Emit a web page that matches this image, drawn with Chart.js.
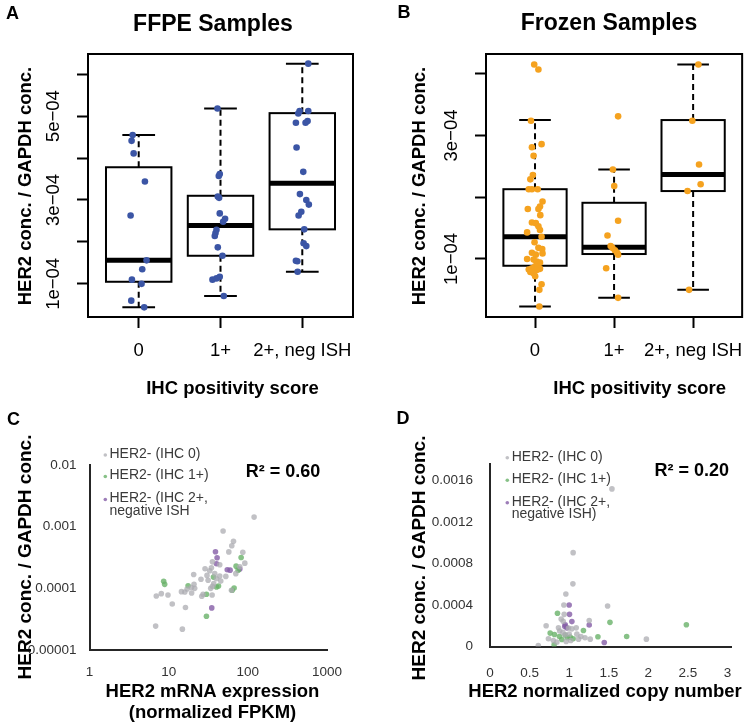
<!DOCTYPE html>
<html>
<head>
<meta charset="utf-8">
<title>HER2 / GAPDH</title>
<script src="https://cdn.jsdelivr.net/npm/chart.js@4.4.1/dist/chart.umd.min.js"></script>
<style>
  body { margin: 0; background: #fff; }
  #page { position: relative; width: 755px; height: 726px; overflow: hidden; }
  canvas { position: absolute; }
</style>
</head>
<body>
<div id="page">
  <canvas id="chartA" width="377" height="400" style="left:0;top:0"></canvas>
  <canvas id="chartB" width="378" height="400" style="left:377px;top:0"></canvas>
  <canvas id="chartC" width="377" height="326" style="left:0;top:400px"></canvas>
  <canvas id="chartD" width="378" height="326" style="left:377px;top:400px"></canvas>
</div>
<script>
// ---------- data ----------
// boxplot panels: HER2 conc. / GAPDH conc., in units of 1e-04
const scoreLabels = ['0', '1+', '2+, neg ISH'];

const ffpeScore0 = [4.55, 4.41, 4.11, 3.44, 2.63, 1.56, 1.35, 1.10, 1.00, 0.60, 0.44];
const ffpeScore1 = [5.18, 3.62, 3.57, 3.08, 3.05, 2.68, 2.55, 2.48, 2.29, 2.21, 2.14, 1.87, 1.67, 1.17, 1.13, 1.10, 0.71];
const ffpeScore2 = [6.25, 5.12, 5.06, 5.12, 4.84, 4.84, 4.88, 4.25, 3.67, 3.14, 3.00, 2.89, 2.72, 2.63, 2.30, 1.97, 1.90, 1.55, 1.54, 1.29];
// horizontal jitter of each dot, in category units
const ffpeJitter0 = [-0.074, -0.087, -0.062, 0.076, -0.099, 0.096, 0.043, -0.083, 0.035, -0.091, 0.067];
const ffpeJitter1 = [-0.037, -0.009, -0.021, -0.033, -0.017, -0.009, 0.056, 0.032, -0.049, -0.061, -0.070, -0.033, 0.024, -0.009, -0.049, -0.098, 0.040];
const ffpeJitter2 = [0.073, -0.033, -0.049, 0.073, -0.078, 0.040, 0.065, -0.070, 0.012, -0.029, 0.049, 0.080, -0.012, -0.045, 0.024, 0.016, 0.049, -0.078, -0.061, -0.057];
const ffpeLow = [0.44, 0.71, 1.29];
const ffpeQ1 = [1.05, 1.67, 2.30];
const ffpeMedian = [1.56, 2.39, 3.40];
const ffpeQ3 = [3.78, 3.10, 5.07];
const ffpeHigh = [4.55, 5.18, 6.25];

const frozenScore0 = [4.15, 4.07, 3.24, 2.86, 2.81, 2.67, 2.36, 2.29, 2.13, 2.13, 2.13, 1.93, 1.85, 1.81, 1.81, 1.71, 1.59, 1.58, 1.53, 1.47,
  1.36, 1.43, 1.27, 1.18, 1.16, 1.10, 1.07, 1.09, 1.00, 0.99, 0.96, 0.94, 0.91, 0.88, 0.85, 0.83, 0.84, 0.82, 0.79, 0.77, 0.72, 0.59, 0.50, 0.23];
const frozenScore1 = [3.31, 2.45, 2.18, 1.62, 1.38, 1.21, 1.18, 1.14, 1.10, 1.07, 0.85, 0.37];
const frozenScore2 = [4.15, 3.24, 2.53, 2.21, 2.10, 0.50];
const frozenJitter0 = [-0.010, 0.043, -0.051, 0.083, -0.039, -0.018, -0.027, -0.059, -0.079, -0.039, 0.034, 0.095, 0.063, 0.043, -0.091, 0.067, -0.039, 0.010, 0.043, 0.063,
  0.083, -0.100, -0.006, 0.043, 0.091, -0.039, 0.010, 0.095, -0.100, -0.018, 0.022, 0.063, 0.034, 0.002, -0.039, -0.079, 0.063, 0.022, -0.059, -0.018, 0.002, 0.083, 0.055, 0.055];
const frozenJitter1 = [0.051, -0.015, 0.002, 0.051, -0.083, -0.043, -0.022, 0.010, 0.039, 0.051, -0.100, 0.051];
const frozenJitter2 = [0.067, -0.010, 0.075, 0.095, -0.071, -0.051];
const frozenLow = [0.23, 0.37, 0.50];
const frozenQ1 = [0.89, 1.08, 2.10];
const frozenMedian = [1.36, 1.19, 2.37];
const frozenQ3 = [2.13, 1.91, 3.25];
const frozenHigh = [3.25, 2.45, 4.15];

// panel C: [HER2 mRNA FPKM, HER2/GAPDH]
const fpkmIhc0 = [[120, 0.00143], [48.7, 0.00085], [65.9, 0.00058], [62.7, 0.00049], [57.5, 0.00039], [86.4, 0.000385], [91.6, 0.000256],
  [35.7, 0.000269], [44.2, 0.000241], [34.7, 0.000215], [33.0, 0.000193], [38.2, 0.000173], [30.5, 0.000162], [20.7, 0.000168],
  [25.6, 0.00014], [31.5, 0.000135], [45.5, 0.000131], [52.7, 0.000156], [79.2, 0.000224], [35.7, 0.000108], [34.0, 0.0001],
  [19.4, 0.000103], [21.3, 0.0001], [17.1, 0.0000975], [14.5, 0.0000884], [16.0, 0.0000873], [19.5, 0.0000841], [35.4, 0.000078],
  [27.2, 0.00008], [26.2, 0.0000743], [62.1, 0.0000929], [8.07, 0.000082], [6.98, 0.0000751], [9.8, 0.000078], [11.1, 0.0000558],
  [16.3, 0.0000488], [6.85, 0.0000244], [14.9, 0.0000218], [37.1, 0.000119], [44.2, 0.000158], [70.5, 0.000173], [28.8, 0.000208],
  [20.9, 0.000116], [40.2, 0.000143]];
const fpkmIhc1 = [[82.3, 0.000316], [71.1, 0.000229], [75.4, 0.000197], [8.65, 0.00013], [8.9, 0.000116], [36.8, 0.000152], [42.6, 0.000109],
  [40.2, 0.000105], [17.6, 0.00011], [67.1, 0.000101], [63.5, 0.0000929], [30.0, 0.00008], [30.0, 0.0000353]];
const fpkmIhc2 = [[39.0, 0.000391], [40.9, 0.000313], [40.2, 0.00025], [59.7, 0.000197], [79.2, 0.000205], [55.0, 0.0002], [35.0, 0.0000482]];

// panel D: [HER2 normalized copy number, HER2/GAPDH]
const copyIhc0 = [[1.54, 0.00152], [1.05, 0.000905], [1.047, 0.000604], [0.958, 0.000507], [0.933, 0.0004], [1.485, 0.00039], [0.937, 0.00031],
  [0.899, 0.000265], [0.924, 0.000243], [1.253, 0.00025], [0.709, 0.0002], [0.865, 0.00018], [0.991, 0.000178], [1.034, 0.00017],
  [1.089, 0.00018], [0.92, 0.000136], [0.949, 0.000113], [1.097, 0.000119], [1.148, 0.000097], [1.2, 0.000084], [1.266, 0.000071],
  [1.975, 0.000071], [0.738, 0.000075], [0.80, 0.000058], [0.844, 0.000042], [0.962, 0.000049], [1.02, 0.000058], [1.118, 0.000071],
  [0.61, 0.00001], [0.88, 0.00015], [1.0, 0.00012]];
const copyIhc1 = [[0.852, 0.00032], [1.515, 0.000233], [1.18, 0.000155], [0.76, 0.000129], [0.814, 0.000116], [0.877, 0.000097], [0.979, 0.000084],
  [1.013, 0.00009], [0.907, 0.000068], [1.363, 0.000094], [1.726, 0.000097], [0.81, 0.000016], [2.48, 0.00021], [0.95, 0.00011], [1.05, 0.000075]];
const copyIhc2 = [[1.0, 0.0004], [1.004, 0.00031], [1.034, 0.00024], [1.253, 0.000207], [0.945, 0.000194], [0.97, 0.00018], [1.443, 0.000039], [0.95, 0.00021]];

const groupNamesC = ['HER2- (IHC 0)', 'HER2- (IHC 1+)', 'HER2- (IHC 2+,\nnegative ISH'];
const groupNamesD = ['HER2- (IHC 0)', 'HER2- (IHC 1+)', 'HER2- (IHC 2+,\nnegative ISH)'];

// ---------- styling ----------
const FONT = '"Liberation Sans", Arial, sans-serif';
const BLUE = '#3b55a5';
const ORANGE = '#f5a21f';
const GROUP_COLORS = ['rgba(172,172,178,0.75)', 'rgba(105,178,105,0.8)', 'rgba(132,92,166,0.8)'];

Chart.defaults.font.family = FONT;
Chart.defaults.color = '#000';
Chart.defaults.animation = false;
Chart.defaults.events = [];
Chart.defaults.plugins.legend.display = false;
Chart.defaults.plugins.tooltip.enabled = false;

function jitterPoints(values, jitter, cat) {
  return values.map((v, i) => ({ x: cat + jitter[i], y: v }));
}
function pairPoints(rows) {
  return rows.map(r => ({ x: r[0], y: r[1] }));
}

// free text (titles, letters), drawn after the chart
function textPlugin(items) {
  return {
    id: 'texts',
    afterDraw(chart) {
      const ctx = chart.ctx;
      items.forEach(t => {
        ctx.save();
        ctx.translate(t.x, t.y);
        if (t.rot) ctx.rotate(t.rot);
        ctx.font = t.font;
        ctx.fillStyle = t.color || '#000';
        ctx.textAlign = t.align || 'center';
        ctx.textBaseline = 'middle';
        ctx.fillText(t.text, 0, 0);
        ctx.restore();
      });
    }
  };
}

// R style boxes: frame, dashed whiskers, staples, box and thick median
function boxPlugin(low, q1, median, q3, high) {
  return {
    id: 'boxes',
    beforeDatasetsDraw(chart) {
      const { ctx, chartArea: a, scales: { x, y } } = chart;
      ctx.save();
      ctx.strokeStyle = '#000';
      ctx.lineWidth = 2;
      ctx.strokeRect(a.left, a.top, a.right - a.left, a.bottom - a.top);
      median.forEach((m, i) => {
        const cx = x.getPixelForValue(i);
        const b0 = x.getPixelForValue(i - 0.4), b1 = x.getPixelForValue(i + 0.4);
        const s0 = x.getPixelForValue(i - 0.2), s1 = x.getPixelForValue(i + 0.2);
        const yLo = y.getPixelForValue(low[i]), yHi = y.getPixelForValue(high[i]);
        const yQ1 = y.getPixelForValue(q1[i]), yQ3 = y.getPixelForValue(q3[i]);
        const yMed = y.getPixelForValue(m);

        ctx.lineWidth = 2;
        ctx.setLineDash([6, 4]);
        ctx.beginPath();
        ctx.moveTo(cx, yQ3); ctx.lineTo(cx, yHi);
        ctx.moveTo(cx, yQ1); ctx.lineTo(cx, yLo);
        ctx.stroke();
        ctx.setLineDash([]);

        ctx.beginPath();
        ctx.moveTo(s0, yHi); ctx.lineTo(s1, yHi);
        ctx.moveTo(s0, yLo); ctx.lineTo(s1, yLo);
        ctx.stroke();

        ctx.fillStyle = '#fff';
        ctx.fillRect(b0, yQ3, b1 - b0, yQ1 - yQ3);
        ctx.strokeRect(b0, yQ3, b1 - b0, yQ1 - yQ3);

        ctx.lineWidth = 5;
        ctx.beginPath();
        ctx.moveTo(b0, yMed); ctx.lineTo(b1, yMed);
        ctx.stroke();
      });
      ctx.restore();
    }
  };
}

// little dot legend in the corner of the Excel panels
function dotLegendPlugin(dotX, textX, rows) {
  return {
    id: 'dotLegend',
    afterDraw(chart) {
      const ctx = chart.ctx;
      ctx.save();
      ctx.font = '14px ' + FONT;
      ctx.textAlign = 'left';
      ctx.textBaseline = 'middle';
      chart.data.datasets.forEach((ds, i) => {
        ctx.fillStyle = ds.backgroundColor;
        ctx.beginPath();
        ctx.arc(dotX, rows[i] + 1, 1.8, 0, Math.PI * 2);
        ctx.fill();
        ctx.fillStyle = '#3a3a3a';
        ds.label.split('\n').forEach((line, k) => ctx.fillText(line, textX, rows[i] + k * 12.3));
      });
      ctx.restore();
    }
  };
}

function boxChart(id, groups, jitters, color, yMin, yMax, yLabelEvery, box, texts, area) {
  return new Chart(document.getElementById(id), {
    type: 'scatter',
    data: {
      datasets: groups.map((g, i) => ({
        data: jitterPoints(g, jitters[i], i),
        backgroundColor: color,
        pointRadius: 3.3,
        pointBorderWidth: 0
      }))
    },
    options: {
      responsive: false,
      layout: { padding: { top: area.top, right: area.right, left: 0, bottom: 0 } },
      scales: {
        x: {
          type: 'linear', min: -0.62, max: 2.62,
          afterFit(s) { s.height = area.xHeight; },
          border: { display: false },
          grid: { drawOnChartArea: false, tickLength: 11, tickWidth: 2, tickColor: '#000' },
          ticks: {
            stepSize: 1, includeBounds: false, autoSkip: false, maxRotation: 0, padding: 12,
            font: { size: 18.5 },
            callback: v => scoreLabels[v]
          }
        },
        y: {
          min: yMin, max: yMax,
          afterFit(s) { s.width = area.yWidth; },
          border: { display: false },
          grid: { drawOnChartArea: false, tickLength: 11, tickWidth: 2, tickColor: '#000' },
          ticks: {
            stepSize: 1, includeBounds: false, autoSkip: false,
            minRotation: 90, maxRotation: 90, crossAlign: 'center', padding: -3,
            font: { size: 18.5 },
            callback: v => (v % yLabelEvery === 1 ? v + 'e\u221204' : '')
          }
        }
      }
    },
    plugins: [boxPlugin(...box), textPlugin(texts)]
  });
}

function excelChart(id, groups, names, xOpts, yOpts, texts, area, legend) {
  return new Chart(document.getElementById(id), {
    type: 'scatter',
    data: {
      datasets: groups.map((g, i) => ({
        label: names[i],
        data: pairPoints(g),
        backgroundColor: GROUP_COLORS[i],
        pointRadius: 2.8,
        pointBorderWidth: 0
      }))
    },
    options: {
      responsive: false,
      layout: { padding: { top: area.top, right: area.right, left: 0, bottom: 0 } },
      scales: {
        x: Object.assign({
          afterFit(s) { s.height = area.xHeight; },
          grid: { display: false },
          border: { display: true, color: '#262626', width: 2 }
        }, xOpts),
        y: Object.assign({
          afterFit(s) { s.width = area.yWidth; },
          grid: { display: false },
          border: { display: true, color: '#262626', width: 2 }
        }, yOpts)
      }
    },
    plugins: [dotLegendPlugin(...legend), textPlugin(texts)]
  });
}

const bold = px => 'bold ' + px + 'px ' + FONT;
const UP = -Math.PI / 2;
const yTitle = 'HER2 conc. / GAPDH conc.';

// ---------- A ----------
boxChart('chartA', [ffpeScore0, ffpeScore1, ffpeScore2], [ffpeJitter0, ffpeJitter1, ffpeJitter2], BLUE,
  0.21, 6.48, 2, [ffpeLow, ffpeQ1, ffpeMedian, ffpeQ3, ffpeHigh], [
    { text: 'A', x: 12.5, y: 14, font: bold(18) },
    { text: 'FFPE Samples', x: 213, y: 24.5, font: bold(23) },
    { text: yTitle, x: 25.5, y: 186, rot: UP, font: bold(18.5) },
    { text: 'IHC positivity score', x: 232.5, y: 388.5, font: bold(18.5) }
  ], { top: 54, right: 24, xHeight: 83, yWidth: 88 });

// ---------- B ----------
boxChart('chartB', [frozenScore0, frozenScore1, frozenScore2], [frozenJitter0, frozenJitter1, frozenJitter2], ORANGE,
  0.06, 4.32, 2, [frozenLow, frozenQ1, frozenMedian, frozenQ3, frozenHigh], [
    { text: 'B', x: 27, y: 13.5, font: bold(18) },
    { text: 'Frozen Samples', x: 232, y: 24, font: bold(23) },
    { text: yTitle, x: 43, y: 186, rot: UP, font: bold(18.5) },
    { text: 'IHC positivity score', x: 262.7, y: 388.5, font: bold(18.5) }
  ], { top: 54, right: 3, xHeight: 83, yWidth: 109 });

// ---------- C ----------
const isDecade = v => Math.abs(Math.log10(v) - Math.round(Math.log10(v))) < 1e-6;
excelChart('chartC', [fpkmIhc0, fpkmIhc1, fpkmIhc2], groupNamesC,
  {
    type: 'logarithmic', min: 1, max: 1000,
    ticks: { autoSkip: false, maxRotation: 0, padding: 6, color: '#333', font: { size: 13.5 },
      callback: v => (isDecade(v) ? String(v) : null) }
  },
  {
    type: 'logarithmic', min: 0.00001, max: 0.01,
    ticks: { autoSkip: false, padding: 5, color: '#333', font: { size: 13.5 },
      callback: v => (isDecade(v) ? String(Number(v.toPrecision(1))) : null) }
  },
  [
    { text: 'C', x: 13.5, y: 20, font: bold(18) },
    { text: yTitle, x: 26, y: 157, rot: UP, font: bold(19) },
    { text: 'HER2 mRNA expression', x: 212.5, y: 291.7, font: bold(18.5) },
    { text: '(normalized FPKM)', x: 212.5, y: 313.3, font: bold(18.5) },
    { text: 'R\u00b2 = 0.60', x: 283, y: 72.5, font: bold(18) }
  ],
  { top: 65, right: 50, xHeight: 76, yWidth: 89.5 },
  [105.3, 109.5, [54, 75.5, 98.5]]);

// ---------- D ----------
excelChart('chartD', [copyIhc0, copyIhc1, copyIhc2], groupNamesD,
  {
    type: 'linear', min: 0, max: 3.05,
    ticks: { stepSize: 0.5, includeBounds: false, autoSkip: false, maxRotation: 0, padding: 11, color: '#333', font: { size: 13.5 },
      callback: v => String(v) }
  },
  {
    type: 'linear', min: 0, max: 0.00176,
    ticks: { stepSize: 0.0004, includeBounds: false, autoSkip: false, padding: 9, color: '#333', font: { size: 13.5 },
      callback: v => String(+v.toFixed(4)) }
  },
  [
    { text: 'D', x: 26, y: 19.5, font: bold(18) },
    { text: yTitle, x: 43, y: 158, rot: UP, font: bold(19) },
    { text: 'HER2 normalized copy number', x: 228, y: 291.7, font: bold(18.5) },
    { text: 'R\u00b2 = 0.20', x: 314.7, y: 71, font: bold(18) }
  ],
  { top: 64, right: 23.5, xHeight: 79.5, yWidth: 113 },
  [130.3, 134.7, [56.7, 79.3, 101.7]]);
</script>
</body>
</html>
